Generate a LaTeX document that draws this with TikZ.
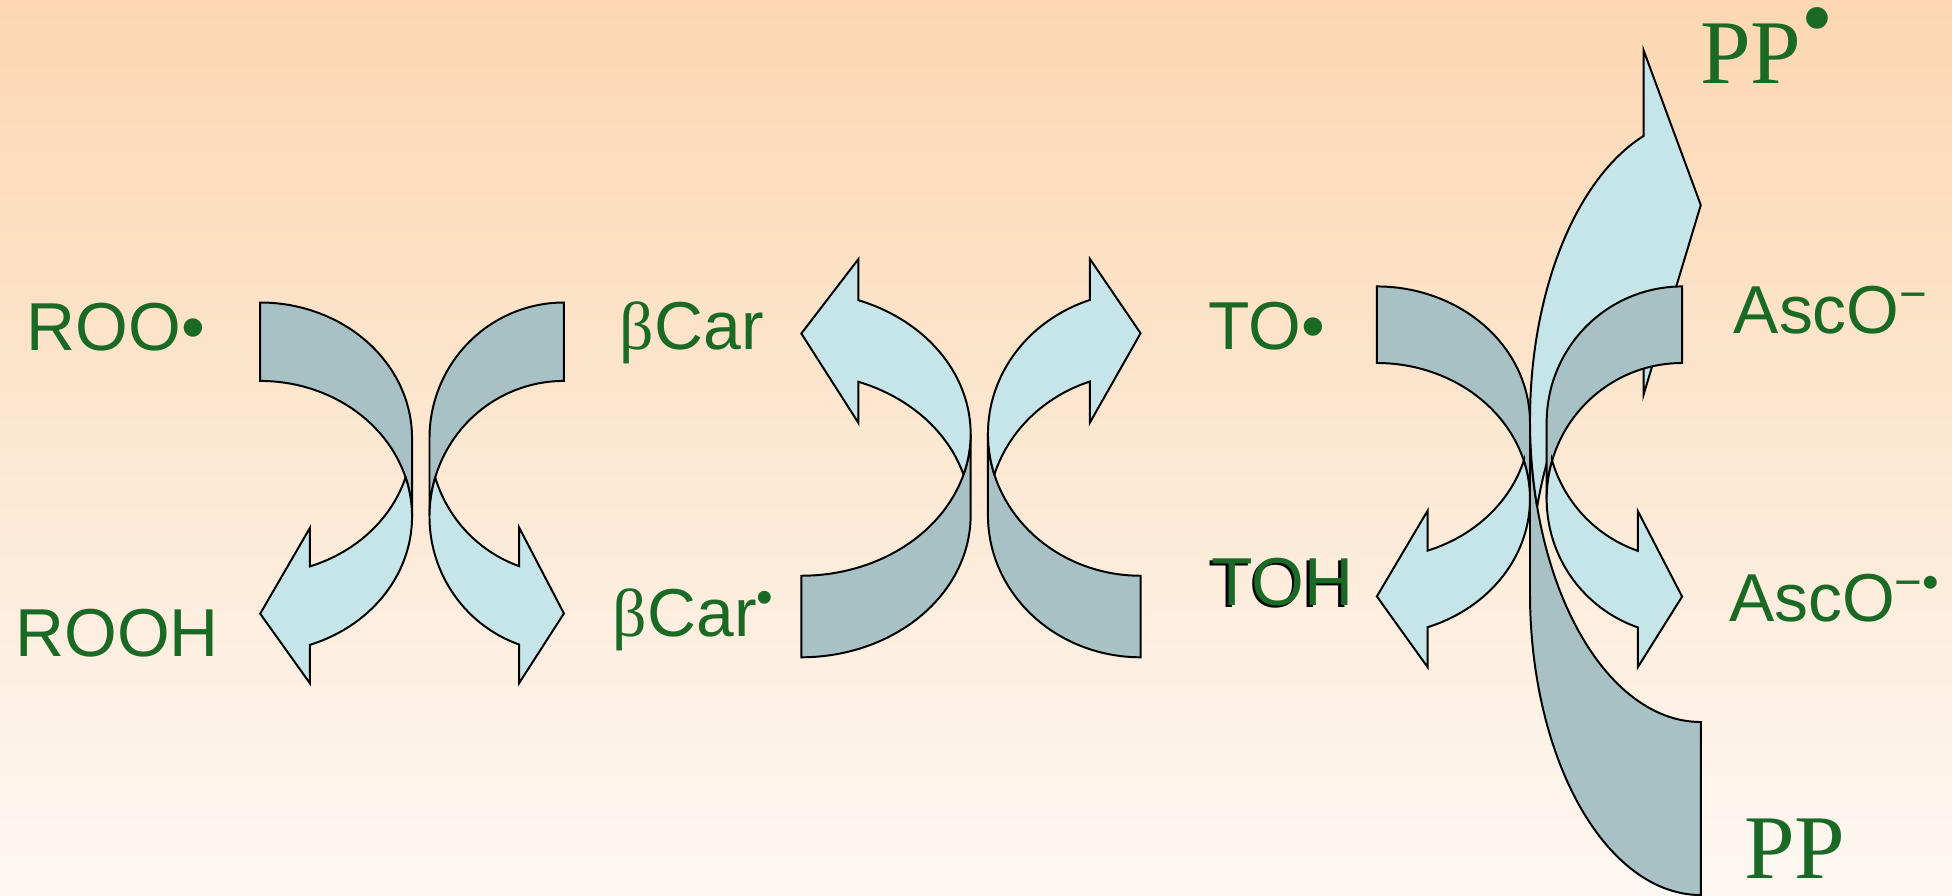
\documentclass[tikz,border=0pt]{standalone}
\usepackage{fontspec}
\setmainfont{Liberation Serif}
\setsansfont{Liberation Sans}
\usetikzlibrary{positioning}

\definecolor{chemgreen}{RGB}{26,106,38}
\definecolor{bandback}{RGB}{167,193,197}
\definecolor{bandfront}{RGB}{197,229,233}
\definecolor{peachtop}{RGB}{252,215,177}
\definecolor{peachbot}{RGB}{253,248,243}

% curved ribbon arrow, tail at the origin, bulging to +x, head further down
% #1 x radius, #2 y radius, #3 ribbon width, #4 head base, #5 barb, #6 tip shift
\newcommand\ribbonarrow[6]{%
  \pgfmathsetmacro\angcross{asin(#3/(2*#2))}
  \pgfmathsetmacro\anghead{acos(#4/#1)}
  \pgfmathsetmacro\yhead{#2*sin(\anghead)}
  \filldraw[back] (0,-#2)
    -- plot[domain=-90:0] ({#1*cos(\x)},{#2*sin(\x)})
    -- (#1,#3)
    -- plot[domain=0:-90] ({#1*cos(\x)},{#3+#2*sin(\x)}) -- cycle;
  \filldraw[front] plot[domain=-\angcross:\anghead] ({#1*cos(\x)},{#3+#2*sin(\x)})
    -- (#4,{#3+\yhead+#5}) -- (0,{#3/2+\yhead+#6}) -- (#4,{\yhead-#5})
    -- plot[domain=\anghead:\angcross] ({#1*cos(\x)},{#2*sin(\x)}) -- cycle;
}

\begin{document}
\begin{tikzpicture}[
    x=0.1mm, y=-0.1mm, samples=60,
    back/.style={fill=bandback, draw=black, line width=0.45pt},
    front/.style={fill=bandfront, draw=black, line width=0.45pt},
    chem/.style={inner sep=0pt, anchor=base west, text=chemgreen,
                 font=\sffamily\fontsize{15.5}{18}\selectfont},
    chemrm/.style={chem, font=\rmfamily\fontsize{20.8}{24}\selectfont},
]
\useasboundingbox (0,0) rectangle (1568,719);
\shade[top color=peachtop, bottom color=peachbot] (0,0) rectangle (1568,719);

% ROO / ROOH pair
\begin{scope}[shift={(209,352)}]
  \ribbonarrow{122}{109}{63}{40}{31}{6.5}
\end{scope}
\begin{scope}[shift={(453,352)}, xscale=-1]
  \ribbonarrow{108}{109}{63}{36}{31}{6.5}
\end{scope}

% carotene pair
\begin{scope}[shift={(643.7,414)}, yscale=-1]
  \ribbonarrow{136}{114}{65.5}{45.8}{33}{6}
\end{scope}
\begin{scope}[shift={(916.2,414)}, xscale=-1, yscale=-1]
  \ribbonarrow{122.6}{114}{65.5}{40.7}{33}{6}
\end{scope}

% PP arrow behind the tocopherol / ascorbate pair
\begin{scope}[shift={(1366.2,476.6)}, xscale=-1, yscale=-1]
  \ribbonarrow{137.2}{242.4}{139}{46}{69}{14}
\end{scope}
\begin{scope}[shift={(1106,339.3)}]
  \ribbonarrow{123}{109.2}{61.5}{40.7}{32}{6}
\end{scope}
\begin{scope}[shift={(1351.2,339.3)}, xscale=-1]
  \ribbonarrow{108.8}{109.2}{61.5}{35.6}{32}{6}
\end{scope}

\node[chem] (roo) at (20.9,281.7) {ROO•};
\node[chem] (rooh) at (11.7,527) {ROOH};
\node[chem] (car) at (497.3,281) {{\rmfamily β}Car};
\node[chem] (carrad) at (491.7,511.4) {{\rmfamily β}Car\textsuperscript{•}};
\node[chem] (to) at (970.2,280.6) {TO•};
\node[chem, text=black] (tohshadow) at (970.4,487.8) {TOH};
\node[chem] (toh) at (972.2,486) {TOH};
\node[chem] (asc) at (1392,267.7) {AscO\textsuperscript{−}};
\node[chem] (ascrad) at (1388.2,499.4) {AscO\textsuperscript{−•}};
\node[chemrm] (pprad) at (1365.1,67) {PP\smash{\raisebox{8pt}{•}}};
\node[chemrm] (pp) at (1400.4,705.5) {PP};
\end{tikzpicture}
\end{document}
